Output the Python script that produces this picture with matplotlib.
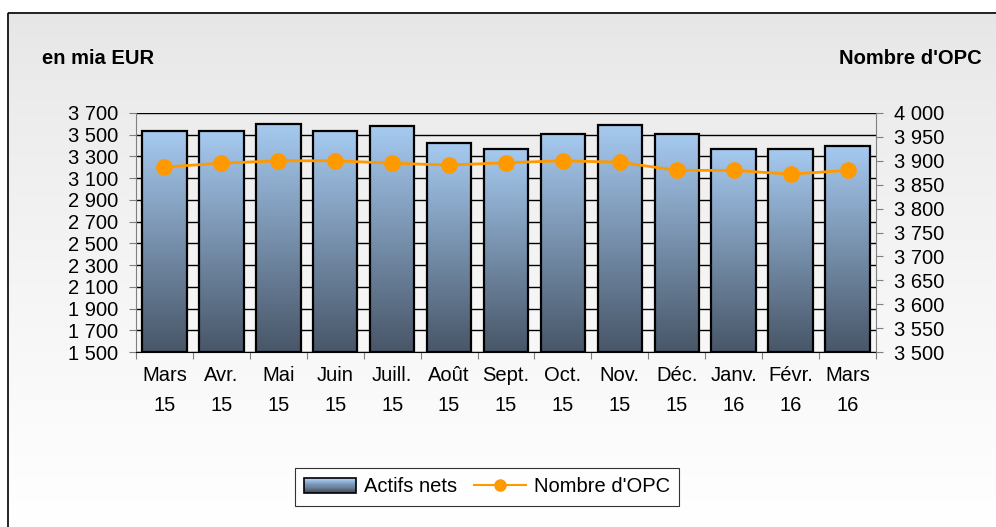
import numpy as np
import matplotlib
matplotlib.use("Agg")
import matplotlib.pyplot as plt
from matplotlib.patches import Rectangle, Patch
from matplotlib.lines import Line2D
from matplotlib.ticker import FuncFormatter
from matplotlib.legend_handler import HandlerBase

plt.rcParams["font.family"] = ["Liberation Sans", "DejaVu Sans"]

# Données
mois = ["Mars\n15", "Avr.\n15", "Mai\n15", "Juin\n15", "Juill.\n15", "Août\n15",
        "Sept.\n15", "Oct.\n15", "Nov.\n15", "Déc.\n15", "Janv.\n16",
        "Févr.\n16", "Mars\n16"]
actifs_nets = [3530, 3530, 3600, 3530, 3580, 3420, 3370, 3510, 3590, 3510,
               3370, 3370, 3400]
nombre_opc = [3887, 3895, 3900, 3900, 3895, 3891, 3896, 3900, 3897, 3880,
              3880, 3872, 3880]

W, H = 996, 527
c_haut = np.array([166, 202, 240]) / 255
c_bas = np.array([72, 86, 104]) / 255


class HandlerDegrade(HandlerBase):
    # petit rectangle dégradé pour la légende
    def create_artists(self, legend, orig_handle, xdescent, ydescent, width,
                       height, fontsize, trans):
        arts = []
        n = 12
        for i in range(n):
            t = i / (n - 1)
            c = c_bas + (c_haut - c_bas) * t
            r = Rectangle((-xdescent, -ydescent + height * i / n), width,
                          height / n, facecolor=c, edgecolor="none",
                          transform=trans)
            arts.append(r)
        arts.append(Rectangle((-xdescent, -ydescent), width, height,
                              fill=False, edgecolor="black", linewidth=1.2,
                              transform=trans))
        return arts


fig = plt.figure(figsize=(W / 100, H / 100), dpi=100)

# fond dégradé + cadre
bg = fig.add_axes([0, 0, 1, 1], zorder=-5)
bg.set_xlim(0, W)
bg.set_ylim(H, 0)
bg.axis("off")
grad = np.linspace(0, 1, 256).reshape(-1, 1)
top_c = np.array([230, 230, 230]) / 255
bot_c = np.array([255, 255, 255]) / 255
img = top_c + (bot_c - top_c) * grad[..., None] ** 0.8
bg.imshow(img.reshape(256, 1, 3), extent=[7, W, H, 12], aspect="auto")
bg.add_patch(Rectangle((7.5, 12.5), W, H, fill=False, edgecolor="black",
                       linewidth=1.2))

ax = fig.add_axes([136 / W, 1 - 352 / H, (876 - 136) / W, (352 - 113) / H])
ax.patch.set_visible(False)

x = np.arange(len(mois))
largeur = 0.78

# barres avec dégradé vertical
g = np.linspace(0, 1, 200).reshape(-1, 1, 1)
bar_img = c_haut + (c_bas - c_haut) * g
for xi, v in zip(x, actifs_nets):
    ax.imshow(bar_img, extent=[xi - largeur / 2, xi + largeur / 2, 1500, v],
              aspect="auto", zorder=2)
    ax.add_patch(Rectangle((xi - largeur / 2, 1500), largeur, v - 1500,
                           fill=False, edgecolor="black", linewidth=1.6,
                           zorder=3))
ax.set_xlim(-0.5, len(mois) - 0.5)
ax.set_ylim(1500, 3700)

ax.set_yticks(np.arange(1500, 3701, 200))
fmt = FuncFormatter(lambda v, p: f"{int(v):,}".replace(",", " "))
ax.yaxis.set_major_formatter(fmt)
ax.grid(axis="y", color="black", linewidth=1.0, zorder=1)
ax.set_axisbelow(True)

ax.set_xticks(np.arange(-0.5, len(mois), 1.0))
ax.set_xticklabels([])
ax.set_xticks(x, minor=True)
ax.set_xticklabels(mois, minor=True, fontsize=14.5, linespacing=1.75)
ax.tick_params(axis="x", which="minor", length=0, pad=10)
ax.tick_params(axis="x", which="major", length=5, color="#808080")
ax.tick_params(axis="y", labelsize=14.5, length=5, color="#808080", pad=8)

for s in ["top", "right"]:
    ax.spines[s].set_visible(False)
ax.spines["left"].set_color("#808080")
ax.spines["bottom"].set_color("black")

ax2 = ax.twinx()
ax2.set_ylim(3500, 4000)
ax2.set_yticks(np.arange(3500, 4001, 50))
ax2.yaxis.set_major_formatter(fmt)
ax2.tick_params(axis="y", labelsize=14.5, length=5, color="#808080", pad=8)
for s in ["top", "left", "bottom"]:
    ax2.spines[s].set_visible(False)
ax2.spines["right"].set_color("#808080")
ax2.plot(x, nombre_opc, color="#ff9900", linewidth=2, marker="o",
         markersize=11, zorder=5)

fig.text(42 / W, 1 - 58 / H, "en mia EUR", fontsize=14.5, fontweight="bold",
         va="center", ha="left")
fig.text(982 / W, 1 - 58 / H, "Nombre d'OPC", fontsize=14.5,
         fontweight="bold", va="center", ha="right")

handles = [Patch(facecolor="#86a4c8", edgecolor="black"),
           Line2D([], [], color="#ff9900", linewidth=1.5, marker="o",
                  markersize=8)]
leg = fig.legend(handles, ["Actifs nets", "Nombre d'OPC"], ncol=2,
                 loc="center", bbox_to_anchor=(487 / W, 1 - 487 / H),
                 fontsize=14.5, frameon=True, fancybox=False,
                 handlelength=2.6, columnspacing=0.8, handletextpad=0.4,
                 borderpad=0.45, handler_map={Patch: HandlerDegrade()})
leg.get_frame().set_edgecolor("black")
leg.get_frame().set_facecolor("white")
leg.get_frame().set_linewidth(0.8)

fig.savefig("out.png", dpi=100)
